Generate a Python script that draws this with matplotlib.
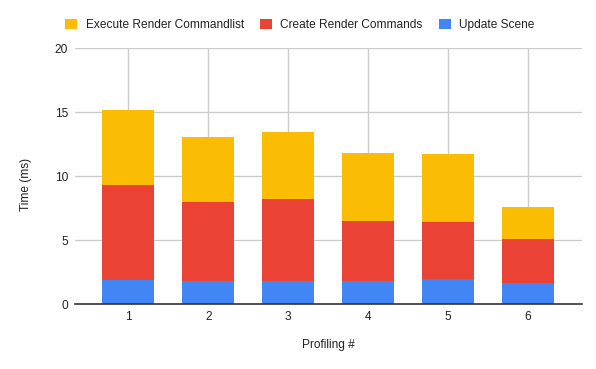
import matplotlib
matplotlib.use("Agg")
import matplotlib.pyplot as plt
from matplotlib.patches import Patch

categories = ["1", "2", "3", "4", "5", "6"]
update_scene = [1.9, 1.8, 1.8, 1.8, 2.0, 1.65]
create_render = [7.4, 6.2, 6.4, 4.7, 4.45, 3.45]
execute_render = [5.9, 5.05, 5.3, 5.3, 5.27, 2.5]
yticks = [0, 5, 10, 15, 20]

c_blue = "#4285F4"
c_red = "#EA4335"
c_yellow = "#FBBC04"

plt.rcParams['font.family'] = ['Liberation Sans', 'DejaVu Sans']
FS = 8.6
TXT = "#222222"

W, H = 596, 369
fig = plt.figure(figsize=(W/100, H/100), dpi=100)
L, R, T, B = 75, 582, 48.3, 304.3
ax = fig.add_axes([L/W, 1-B/H, (R-L)/W, (B-T)/H])

x = list(range(1, len(categories)+1))
w = 0.65
bottom2 = [a + b for a, b in zip(update_scene, create_render)]
ax.bar(x, update_scene, width=w, color=c_blue, zorder=3)
ax.bar(x, create_render, width=w, bottom=update_scene, color=c_red, zorder=3)
ax.bar(x, execute_render, width=w, bottom=bottom2, color=c_yellow, zorder=3)

ax.set_xlim(1-0.667, 6+0.675)
ax.set_ylim(0, 20)
ax.set_yticks(yticks)
ax.set_xticks(x)
ax.set_xticklabels(categories)
ax.grid(True, color="#cccccc", linewidth=1, zorder=0)
for s in ["top", "right", "left"]:
    ax.spines[s].set_visible(False)
ax.spines["bottom"].set_color("#333333")
ax.spines["bottom"].set_linewidth(1.2)
ax.spines["bottom"].set_zorder(4)
ax.tick_params(length=0, labelsize=FS, colors=TXT)
ax.tick_params(axis="x", pad=5)
ax.tick_params(axis="y", pad=5)

fig.text(328/W, 1-345/H, "Profiling #", fontsize=FS, color=TXT,
         ha="center", va="center")
fig.text(26/W, 1-184/H, "Time (ms)", fontsize=FS, color=TXT,
         ha="center", va="center", rotation=90)

handles = [Patch(facecolor=c_yellow, label="Execute Render Commandlist"),
           Patch(facecolor=c_red, label="Create Render Commands"),
           Patch(facecolor=c_blue, label="Update Scene")]
fig.legend(handles=handles, loc="center", bbox_to_anchor=(300/W, 1-25/H), ncol=3,
           frameon=False, fontsize=FS, handlelength=1.0, handleheight=1.0,
           handletextpad=0.7, columnspacing=1.35, labelcolor=TXT,
           borderaxespad=0, borderpad=0)

fig.savefig("out.png", dpi=100)
